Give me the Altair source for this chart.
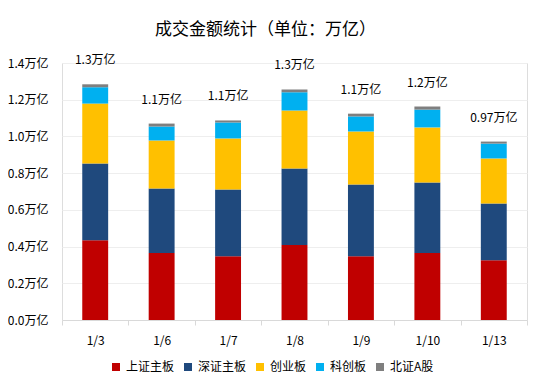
import altair as alt
import pandas as pd

dates = ["1/3", "1/6", "1/7", "1/8", "1/9", "1/10", "1/13"]
series = ["上证主板", "深证主板", "创业板", "科创板", "北证A股"]
colors = ["#C00000", "#1F497D", "#FFC000", "#00B0F0", "#7F7F7F"]

sh_main = [0.434, 0.365, 0.347, 0.408, 0.347, 0.365, 0.325]
sz_main = [0.419, 0.352, 0.364, 0.417, 0.391, 0.384, 0.310]
chinext = [0.326, 0.261, 0.278, 0.316, 0.289, 0.300, 0.245]
star = [0.089, 0.076, 0.087, 0.099, 0.082, 0.097, 0.081]
bse = [0.016, 0.016, 0.011, 0.016, 0.015, 0.017, 0.011]
total_labels = ["1.3万亿", "1.1万亿", "1.1万亿", "1.3万亿", "1.1万亿", "1.2万亿", "0.97万亿"]
y_ticks = [0.0, 0.2, 0.4, 0.6, 0.8, 1.0, 1.2, 1.4]

values = [sh_main, sz_main, chinext, star, bse]
rows = []
for si, (s, vals) in enumerate(zip(series, values)):
    for d, v in zip(dates, vals):
        rows.append({"date": d, "series": s, "order": si, "value": v})
df = pd.DataFrame(rows)

totals = [sum(v[i] for v in values) for i in range(len(dates))]
df_tot = pd.DataFrame({"date": dates, "total": totals, "label": total_labels})

FONT = "Noto Sans CJK SC"

x_enc = alt.X(
    "date:N",
    sort=dates,
    scale=alt.Scale(paddingInner=0, paddingOuter=0),
    axis=alt.Axis(
        title=None, labelAngle=0, tickBand="extent", domainColor="#D9D9D9",
        tickColor="#D9D9D9", tickSize=5, labelPadding=10, labelFontSize=12,
        labelColor="#000000", labelFont=FONT, grid=False,
    ),
)

y_scale = alt.Scale(domain=[0, 1.4], nice=False, zero=True)
y_axis = alt.Axis(
    title=None, values=y_ticks, labelExpr="format(datum.value, '.1f') + '万亿'",
    domain=False, ticks=False, labelPadding=14, gridColor="#EEEEEE",
    labelFontSize=12, labelColor="#000000", labelFont=FONT,
    labelOverlap=False, labelBound=False, labelFlush=False,
)

bars = alt.Chart(df).mark_bar(width=alt.RelativeBandSize(0.39)).encode(
    x=x_enc,
    y=alt.Y("value:Q", stack="zero", scale=y_scale, axis=y_axis),
    color=alt.Color(
        "series:N",
        scale=alt.Scale(domain=series, range=colors),
        legend=alt.Legend(
            title=None, orient="none", direction="horizontal", legendX=48, legendY=298,
            symbolType="square", symbolSize=64, symbolStrokeWidth=0, labelFontSize=12,
            labelFont=FONT, labelColor="#000000", columnPadding=7, labelOffset=4,
        ),
    ),
    order=alt.Order("order:Q", sort="ascending"),
)

labels = alt.Chart(df_tot).mark_text(
    dy=-24, fontSize=12, font=FONT, color="#000000"
).encode(
    x=x_enc,
    y=alt.Y("total:Q", scale=y_scale, axis=y_axis),
    text="label:N",
)

chart = alt.layer(bars, labels).properties(
    width=465,
    height=257,
    title=alt.TitleParams(
        "成交金额统计（单位：万亿）", fontSize=17, font=FONT, fontWeight="normal",
        color="#000000", anchor="middle", dx=-29, offset=15,
    ),
    padding={"left": 54, "top": 55, "right": 7, "bottom": 60},
    autosize=alt.AutoSizeParams(type="none"),
).configure_view(stroke=None).configure(background="#FFFFFF").configure_axisY(
    labelOverlap=False
)

chart.save("out.html", embed_options={"renderer": "svg", "actions": False})
